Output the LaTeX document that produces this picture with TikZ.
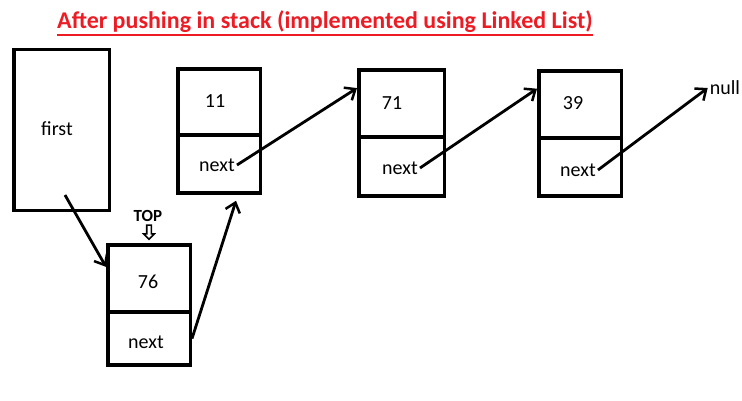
\documentclass[tikz,border=0pt]{standalone}
\usepackage{fontspec}
\setmainfont{Carlito}
\usepackage{tikz}
\usetikzlibrary{arrows.meta,shapes.arrows}
\definecolor{titlered}{RGB}{237,28,36}
\tikzstyle{cell}=[rectangle,draw=black,line width=3.5pt,minimum width=82.5pt,inner sep=0pt]
\tikzstyle{txt}=[inner sep=2pt,font=\fontsize{20}{24}\selectfont]
\tikzstyle{arr}=[-{Straight Barb[length=9pt,width=15pt,line width=2.5pt]},draw=black,line width=2.8pt]

\begin{document}
\begin{tikzpicture}[x=1pt,y=-1pt]
  \useasboundingbox (0,0) rectangle (742,401);
  %Title
  \node[inner sep=0pt,text=titlered,font=\fontsize{24}{28}\selectfont\bfseries] (title) at (325,22) {After pushing in stack (implemented using Linked List)};
  \draw[titlered,line width=2.5pt] ([yshift=-2pt]title.south west) -- ([yshift=-2pt]title.south east);
  %Nodes
  \node[cell,minimum width=95.5pt,minimum height=160.5pt] (first) at (61.5,130) {};
  \node[txt]  (flbl)  at (57,129)  {first};

  \node[cell,minimum height=66pt]   (v11) at (219,102)   {};
  \node[cell,minimum height=58pt]   (n11) at (219,164)   {};
  \node[txt]  (k11)  at (215,101)  {11};
  \node[txt]  (p11)  at (217,165)  {next};

  \node[cell,minimum height=67pt]   (v76) at (149,278.4) {};
  \node[cell,minimum height=53pt]   (n76) at (149,338.6) {};
  \node[txt]  (k76)  at (148,282)  {76};
  \node[txt]  (p76)  at (146,342)  {next};

  \node[cell,minimum width=85.5pt,minimum height=67pt] (v71) at (401.5,103.4) {};
  \node[cell,minimum width=85.5pt,minimum height=59pt] (n71) at (401.5,166.6) {};
  \node[txt]  (k71)  at (392,103)  {71};
  \node[txt]  (p71)  at (400,168)  {next};

  \node[cell,minimum height=67pt]   (v39) at (580,104.4) {};
  \node[cell,minimum height=58pt]   (n39) at (580,167)   {};
  \node[txt]  (k39)  at (573,103)  {39};
  \node[txt]  (p39)  at (578,170)  {next};

  \node[txt]  (nul)  at (725,88)   {null};

  \node[inner sep=0pt,font=\fontsize{17}{20}\selectfont\bfseries] (top) at (148,216) {TOP};
  \node[single arrow,draw=black,line width=1.6pt,shape border rotate=270,inner sep=1.5pt,
        minimum height=14pt,single arrow head extend=3pt,single arrow head indent=0pt] (toparr) at (149,231) {};

  \coordinate (fstart) at (65,195);
  %Lines
  \draw[arr] (fstart) -- (v76.165);
  \draw[arr] (n76.east) -- ([xshift=17pt,yshift=-6pt]n11.south);
  \draw[arr] (p11.east) -- (v71.161);
  \draw[arr] (p71.east) -- (v39.160);
  \draw[arr] (p39.east) -- (nul.west);
\end{tikzpicture}
\end{document}
